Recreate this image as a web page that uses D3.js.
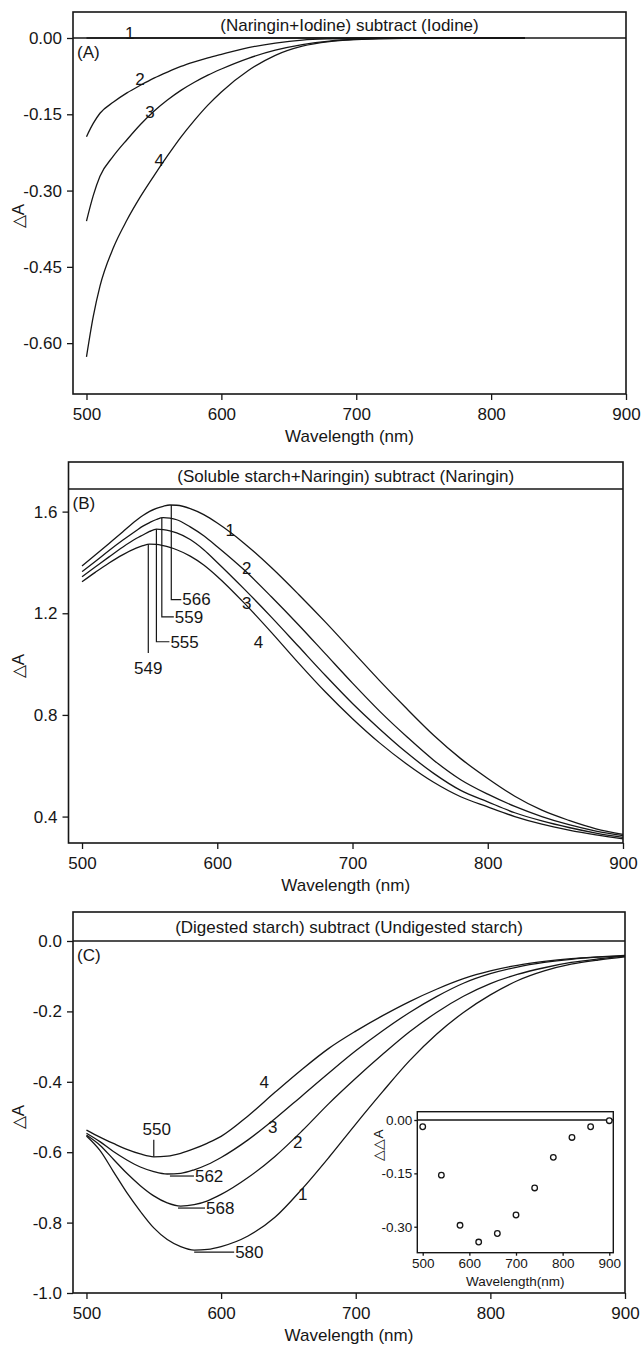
<!DOCTYPE html>
<html>
<head>
<meta charset="utf-8">
<script src="https://cdn.jsdelivr.net/npm/d3@7"></script>
<style>
	body { margin: 0; background: #fff; }
	svg { display: block; font-family: "Liberation Sans", Arial, Helvetica, sans-serif; }
</style>
</head>
<body>
<svg id="fig" width="642" height="1347"></svg>
<script>
// shared x ticks (nm)
const xTicks = [500, 600, 700, 800, 900];

// (A) (Naringin+Iodine) subtract (Iodine)
const wlA = [500, 505, 510, 520, 530, 540, 550, 560, 570, 580, 590, 600, 620, 640, 660, 680, 700, 720, 750, 780, 825];
const a1 = [0, 0, 0, 0, 0, 0, 0, 0, 0, 0, 0, 0, 0, 0, 0, 0, 0, 0, 0, 0, 0];
const a2 = [-0.194, -0.168, -0.148, -0.126, -0.108, -0.093, -0.079, -0.067, -0.056, -0.047, -0.039, -0.032, -0.019, -0.010, -0.004, -0.0015, -0.0005, 0, 0, 0, 0];
const a3 = [-0.360, -0.310, -0.272, -0.232, -0.200, -0.170, -0.144, -0.122, -0.103, -0.087, -0.073, -0.061, -0.040, -0.024, -0.013, -0.006, -0.0025, -0.001, 0, 0, 0];
const a4 = [-0.627, -0.548, -0.488, -0.412, -0.358, -0.312, -0.271, -0.232, -0.195, -0.162, -0.132, -0.106, -0.064, -0.034, -0.016, -0.007, -0.003, -0.001, 0, 0, 0];
const yTicksA = [0, -0.15, -0.30, -0.45, -0.60];
const labelsA = [
	{t: "1", wl: 532, v: 0.011},
	{t: "2", wl: 539.6, v: -0.080},
	{t: "3", wl: 547, v: -0.145},
	{t: "4", wl: 554, v: -0.240}
];

// (B) (Soluble starch+Naringin) subtract (Naringin)
const wlB = [500, 510, 520, 530, 540, 545, 550, 555, 560, 565, 570, 580, 590, 600, 620, 640, 660, 680, 700, 720, 740, 760, 780, 800, 820, 840, 860, 880, 900];
const b1 = [1.386, 1.430, 1.475, 1.520, 1.565, 1.585, 1.601, 1.613, 1.621, 1.626, 1.625, 1.612, 1.588, 1.555, 1.475, 1.380, 1.275, 1.165, 1.050, 0.935, 0.825, 0.720, 0.628, 0.550, 0.480, 0.425, 0.385, 0.352, 0.330];
const b2 = [1.364, 1.405, 1.447, 1.487, 1.525, 1.543, 1.557, 1.569, 1.576, 1.574, 1.568, 1.540, 1.505, 1.462, 1.370, 1.265, 1.155, 1.040, 0.925, 0.815, 0.715, 0.622, 0.545, 0.488, 0.440, 0.400, 0.368, 0.343, 0.325];
const b3 = [1.344, 1.383, 1.422, 1.460, 1.494, 1.508, 1.522, 1.531, 1.529, 1.524, 1.516, 1.490, 1.450, 1.400, 1.295, 1.185, 1.070, 0.955, 0.845, 0.745, 0.652, 0.570, 0.503, 0.458, 0.415, 0.383, 0.357, 0.335, 0.318];
const b4 = [1.324, 1.362, 1.398, 1.430, 1.456, 1.466, 1.472, 1.471, 1.466, 1.459, 1.450, 1.425, 1.390, 1.345, 1.240, 1.125, 1.005, 0.890, 0.785, 0.690, 0.607, 0.535, 0.478, 0.438, 0.400, 0.370, 0.347, 0.328, 0.312];
const yTicksB = [0.4, 0.8, 1.2, 1.6];
const labelsB = [
	{t: "1", wl: 609.5, v: 1.528},
	{t: "2", wl: 621.8, v: 1.377},
	{t: "3", wl: 621.8, v: 1.239},
	{t: "4", wl: 630.4, v: 1.088}
];
const peaksB = [
	{label: "566", wl: 566, top: 1.626, end: 1.254},
	{label: "559", wl: 559, top: 1.576, end: 1.186},
	{label: "555", wl: 555, top: 1.531, end: 1.088},
	{label: "549", wl: 549, top: 1.472, end: 1.044}
];

// (C) (Digested starch) subtract (Undigested starch)
const wlC = [500, 510, 520, 530, 540, 550, 560, 570, 580, 590, 600, 620, 640, 660, 680, 700, 720, 740, 760, 780, 800, 820, 840, 860, 880, 900];
const c1 = [-0.554, -0.595, -0.655, -0.715, -0.768, -0.815, -0.848, -0.868, -0.878, -0.876, -0.868, -0.838, -0.785, -0.705, -0.615, -0.520, -0.428, -0.340, -0.265, -0.203, -0.153, -0.113, -0.085, -0.066, -0.054, -0.045];
const c2 = [-0.551, -0.580, -0.620, -0.660, -0.695, -0.724, -0.744, -0.753, -0.749, -0.738, -0.720, -0.672, -0.612, -0.540, -0.462, -0.390, -0.322, -0.258, -0.203, -0.157, -0.121, -0.095, -0.076, -0.061, -0.051, -0.043];
const c3 = [-0.546, -0.570, -0.598, -0.622, -0.642, -0.655, -0.662, -0.660, -0.650, -0.635, -0.615, -0.565, -0.505, -0.440, -0.375, -0.312, -0.255, -0.203, -0.158, -0.120, -0.093, -0.074, -0.061, -0.052, -0.046, -0.042];
const c4 = [-0.537, -0.557, -0.575, -0.592, -0.605, -0.613, -0.611, -0.603, -0.590, -0.574, -0.555, -0.497, -0.430, -0.365, -0.305, -0.256, -0.212, -0.172, -0.137, -0.107, -0.085, -0.069, -0.058, -0.050, -0.045, -0.041];
const yTicksC = [0, -0.2, -0.4, -0.6, -0.8, -1.0];
const labelsC = [
	{t: "4", wl: 632, v: -0.400},
	{t: "3", wl: 638.3, v: -0.528},
	{t: "2", wl: 657, v: -0.570},
	{t: "1", wl: 660.6, v: -0.717}
];
const peaksC = [
	{label: "550", wl: 550, v: -0.613},
	{label: "562", wl: 562, v: -0.662},
	{label: "568", wl: 568, v: -0.753},
	{label: "580", wl: 580, v: -0.878}
];

// inset of (C): delta delta A
const insetWl = [500, 540, 580, 620, 660, 700, 740, 780, 820, 860, 900];
const insetDDA = [-0.019, -0.155, -0.296, -0.343, -0.319, -0.267, -0.191, -0.105, -0.049, -0.019, -0.002];
const insetYTicks = [0, -0.15, -0.30];

(function () {
	let svg = d3.select("#fig");
	let ink = "#161616";

	let globalVars = {};
	globalVars.fontSize = 17;
	globalVars.insetFont = 13.5;
	globalVars.lineW = 1.3;

	svg.append("rect").attr("width", 642).attr("height", 1347).attr("fill", "#fff");

	let panels = [
		{letter: "(A)", title: "(Naringin+Iodine) subtract (Iodine)", top: 12, header: 26, bottom: 394, left: 73, right: 626,
			yDomain: [-0.70, 0], yTicks: yTicksA, dec: 2, wl: wlA, series: [a1, a2, a3, a4], labels: labelsA},
		{letter: "(B)", title: "(Soluble starch+Naringin) subtract (Naringin)", top: 462, header: 27, bottom: 843, left: 68.5, right: 623,
			yDomain: [0.296, 1.689], yTicks: yTicksB, dec: 1, wl: wlB, series: [b1, b2, b3, b4], labels: labelsB},
		{letter: "(C)", title: "(Digested starch) subtract (Undigested starch)", top: 912, header: 29, bottom: 1293, left: 73, right: 625,
			yDomain: [-1.0, 0], yTicks: yTicksC, dec: 1, wl: wlC, series: [c1, c2, c3, c4], labels: labelsC}
	];

	let scales = panels.map(drawPanel);
	drawPeaksB(scales[1]);
	drawPeaksC(scales[2]);
	drawInset();

	function styleAxis(gAxis, size) {
		gAxis.attr("font-family", null).attr("font-size", null);
		gAxis.select(".domain").remove();
		gAxis.selectAll(".tick line").attr("stroke", ink).attr("stroke-width", 1.3);
		gAxis.selectAll(".tick text").attr("fill", ink).style("font-size", size + "px");
	}

	function drawPanel(p) {
		let g = svg.append("g");
		let x = d3.scaleLinear().domain([490, 900]).range([p.left, p.right]);
		let y = d3.scaleLinear().domain(p.yDomain).range([p.bottom, p.top + p.header]);

		let gx = g.append("g")
			.attr("transform", "translate(0," + p.bottom + ")")
			.call(d3.axisBottom(x).tickValues(xTicks).tickSize(6).tickPadding(8).tickFormat(d3.format("d")));
		styleAxis(gx, globalVars.fontSize);

		let gy = g.append("g")
			.attr("transform", "translate(" + p.left + ",0)")
			.call(d3.axisLeft(y).tickValues(p.yTicks).tickSize(6).tickPadding(5).tickFormat(function (d) {
				return (Math.abs(d) < 1e-9 ? 0 : d).toFixed(p.dec);
			}));
		styleAxis(gy, globalVars.fontSize);

		let line = d3.line()
			.x(function (d) { return x(d[0]); })
			.y(function (d) { return y(d[1]); })
			.curve(d3.curveMonotoneX);

		g.selectAll("path.curve")
			.data(p.series)
			.enter()
			.append("path")
			.attr("class", "curve")
			.attr("fill", "none")
			.attr("stroke", ink)
			.attr("stroke-width", globalVars.lineW)
			.attr("d", function (vals) {
				return line(vals.map(function (v, i) { return [p.wl[i], v]; }));
			});

		// frame and header band
		g.append("rect")
			.attr("x", p.left).attr("y", p.top)
			.attr("width", p.right - p.left).attr("height", p.bottom - p.top)
			.attr("fill", "none").attr("stroke", ink).attr("stroke-width", 1.6);
		g.append("line")
			.attr("x1", p.left).attr("x2", p.right)
			.attr("y1", p.top + p.header).attr("y2", p.top + p.header)
			.attr("stroke", ink).attr("stroke-width", 1.5);

		g.append("text")
			.attr("x", (p.left + p.right) / 2)
			.attr("y", p.top + p.header / 2)
			.attr("dy", "0.36em")
			.attr("text-anchor", "middle")
			.attr("fill", ink)
			.style("font-size", globalVars.fontSize + "px")
			.text(p.title);

		g.append("text")
			.attr("x", p.left + 4)
			.attr("y", p.top + p.header + 20)
			.attr("fill", ink)
			.style("font-size", globalVars.fontSize + "px")
			.text(p.letter);

		g.append("text")
			.attr("x", (p.left + p.right) / 2)
			.attr("y", p.bottom + 48)
			.attr("text-anchor", "middle")
			.attr("fill", ink)
			.style("font-size", globalVars.fontSize + "px")
			.text("Wavelength (nm)");

		g.append("text")
			.attr("transform", "translate(24," + ((p.top + p.header + p.bottom) / 2) + ") rotate(-90)")
			.attr("text-anchor", "middle")
			.attr("fill", ink)
			.style("font-size", globalVars.fontSize + "px")
			.text("\u25B3A");

		g.selectAll("text.num")
			.data(p.labels)
			.enter()
			.append("text")
			.attr("class", "num")
			.attr("x", function (d) { return x(d.wl); })
			.attr("y", function (d) { return y(d.v); })
			.attr("dy", "0.36em")
			.attr("text-anchor", "middle")
			.attr("fill", ink)
			.style("font-size", globalVars.fontSize + "px")
			.text(function (d) { return d.t; });

		return {g: g, x: x, y: y};
	}

	function drawPeaksB(s) {
		let legs = [10, 12, 13, 0];
		peaksB.forEach(function (d, i) {
			let px = s.x(d.wl), py = s.y(d.end);
			s.g.append("path")
				.attr("d", "M" + px + "," + s.y(d.top) + "V" + py + "h" + legs[i])
				.attr("fill", "none").attr("stroke", ink).attr("stroke-width", 1.2);
			let t = s.g.append("text")
				.attr("fill", ink)
				.style("font-size", globalVars.fontSize + "px")
				.text(d.label);
			if (legs[i] > 0) {
				t.attr("x", px + legs[i] + 1).attr("y", py).attr("dy", "0.34em");
			} else {
				t.attr("x", px).attr("y", py + 15).attr("dy", "0.36em").attr("text-anchor", "middle");
			}
		});
	}

	function drawPeaksC(s) {
		let legs = [0, 24, 27, 40];
		peaksC.forEach(function (d, i) {
			let px = s.x(d.wl), py = s.y(d.v);
			let t = s.g.append("text")
				.attr("fill", ink)
				.style("font-size", globalVars.fontSize + "px")
				.text(d.label);
			if (i == 0) {
				s.g.append("path")
					.attr("d", "M" + px + "," + py + "v-17")
					.attr("stroke", ink).attr("stroke-width", 1.2);
				t.attr("x", px + 3).attr("y", py - 28).attr("dy", "0.36em").attr("text-anchor", "middle");
			} else {
				s.g.append("path")
					.attr("d", "M" + px + "," + (py + 2) + "h" + legs[i])
					.attr("stroke", ink).attr("stroke-width", 1.2);
				t.attr("x", px + legs[i] + 1).attr("y", py + 2).attr("dy", "0.36em");
			}
		});
	}

	function drawInset() {
		let box = {left: 417.3, right: 613.3, top: 1111.7, zero: 1120, bottom: 1252.7};
		let g = svg.append("g");
		let x = d3.scaleLinear().domain([488.4, 908.6]).range([box.left, box.right]);
		let y = d3.scaleLinear().domain([-0.373, 0]).range([box.bottom, box.zero]);

		g.append("rect")
			.attr("x", box.left).attr("y", box.top)
			.attr("width", box.right - box.left).attr("height", box.bottom - box.top)
			.attr("fill", "#fff").attr("stroke", ink).attr("stroke-width", 1.4);
		g.append("line")
			.attr("x1", box.left).attr("x2", box.right)
			.attr("y1", box.zero).attr("y2", box.zero)
			.attr("stroke", ink).attr("stroke-width", 1.3);

		let gx = g.append("g")
			.attr("transform", "translate(0," + box.bottom + ")")
			.call(d3.axisBottom(x).tickValues(xTicks).tickSize(3).tickPadding(3).tickFormat(d3.format("d")));
		styleAxis(gx, globalVars.insetFont);

		let gy = g.append("g")
			.attr("transform", "translate(" + box.left + ",0)")
			.call(d3.axisLeft(y).tickValues(insetYTicks).tickSize(3).tickPadding(2).tickFormat(function (d) {
				return (Math.abs(d) < 1e-9 ? 0 : d).toFixed(2);
			}));
		styleAxis(gy, globalVars.insetFont);

		g.selectAll("circle")
			.data(insetWl)
			.enter()
			.append("circle")
			.attr("cx", function (d) { return x(d); })
			.attr("cy", function (d, i) { return y(insetDDA[i]); })
			.attr("r", 2.8)
			.attr("fill", "#fff")
			.attr("stroke", ink)
			.attr("stroke-width", 1.3);

		g.append("text")
			.attr("x", (box.left + box.right) / 2)
			.attr("y", box.bottom + 33)
			.attr("text-anchor", "middle")
			.attr("fill", ink)
			.style("font-size", globalVars.insetFont + "px")
			.text("Wavelength(nm)");

		g.append("text")
			.attr("transform", "translate(383," + 1145 + ") rotate(-90)")
			.attr("text-anchor", "middle")
			.attr("fill", ink)
			.style("font-size", globalVars.insetFont + "px")
			.text("\u25B3\u25B3A");
	}
})();
</script>
</body>
</html>
